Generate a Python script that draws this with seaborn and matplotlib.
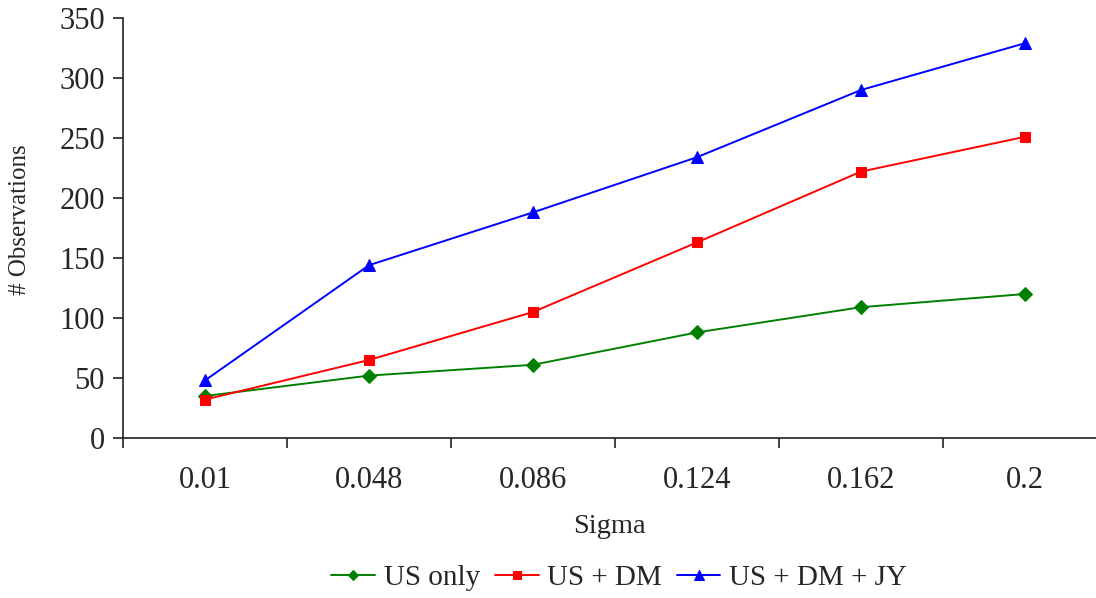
import matplotlib
matplotlib.use("Agg")
import matplotlib.pyplot as plt
import seaborn as sns
import pandas as pd
from matplotlib.ticker import FixedLocator, NullFormatter

sigma = ["0.01", "0.048", "0.086", "0.124", "0.162", "0.2"]
us_only = [35, 52, 61, 88, 109, 120]
us_dm = [32, 65, 105, 163, 222, 251]
us_dm_jy = [48, 144, 188, 234, 290, 329]
series_names = ["US only", "US + DM", "US + DM + JY"]

sns.set_style("white")
plt.rcParams["font.family"] = ["Liberation Serif", "DejaVu Serif"]

rows = []
for name, vals in zip(series_names, [us_only, us_dm, us_dm_jy]):
    for i, (s, v) in enumerate(zip(sigma, vals)):
        rows.append({"pos": i, "Sigma": s, "Observations": v, "Series": name})
df = pd.DataFrame(rows)

fig = plt.figure(figsize=(10.96, 5.98), dpi=100)
ax = fig.add_axes([123/1096, 1 - 438/598, 1 - 123/1096, (438 - 18)/598])

palette = {"US only": "#008000", "US + DM": "#ff0000", "US + DM + JY": "#0000ff"}
markers = {"US only": "D", "US + DM": "s", "US + DM + JY": "^"}
sizes = {"US only": 7, "US + DM": 7.5, "US + DM + JY": 9}
for name in series_names:
    sub = df[df["Series"] == name]
    sns.lineplot(data=sub, x="pos", y="Observations", ax=ax, color=palette[name],
                 marker=markers[name], markersize=sizes[name], linewidth=1.4,
                 markeredgecolor=palette[name], label=name, sort=False)

ax.set_xlim(-0.5, -0.5 + (1096 - 123) / 164)
ax.set_ylim(0, 350)
ax.set_yticks(range(0, 351, 50))
ax.xaxis.set_major_locator(FixedLocator([i + 0.5 for i in range(-1, 6)]))
ax.xaxis.set_major_formatter(NullFormatter())
ax.xaxis.set_minor_locator(FixedLocator(range(len(sigma))))
ax.set_xticklabels(sigma, minor=True)
ax.tick_params(axis="x", which="major", direction="out", length=7, width=1.2, color="#222222", bottom=True)
ax.tick_params(axis="x", which="minor", length=0, pad=20, labelsize=22)
ax.tick_params(axis="y", direction="out", length=7, width=1.2, color="#222222", left=True, labelsize=22, pad=6)

for side in ["top", "right"]:
    ax.spines[side].set_visible(False)
for side in ["left", "bottom"]:
    ax.spines[side].set_color("#222222")
    ax.spines[side].set_linewidth(1.2)

ax.set_xlabel("Sigma", fontsize=20.5, labelpad=14)
ax.set_ylabel("# Observations", fontsize=18)
ax.yaxis.set_label_coords(-0.095, 0.52)

ax.get_legend().remove()
handles, labels = ax.get_legend_handles_labels()
fig.legend(handles, labels, loc="center", bbox_to_anchor=(0.565, 0.033), ncol=3,
           frameon=False, fontsize=21, handlelength=1.5, handletextpad=0.3,
           columnspacing=0.5, markerscale=0.8)

fig.savefig("out.png", dpi=100)
